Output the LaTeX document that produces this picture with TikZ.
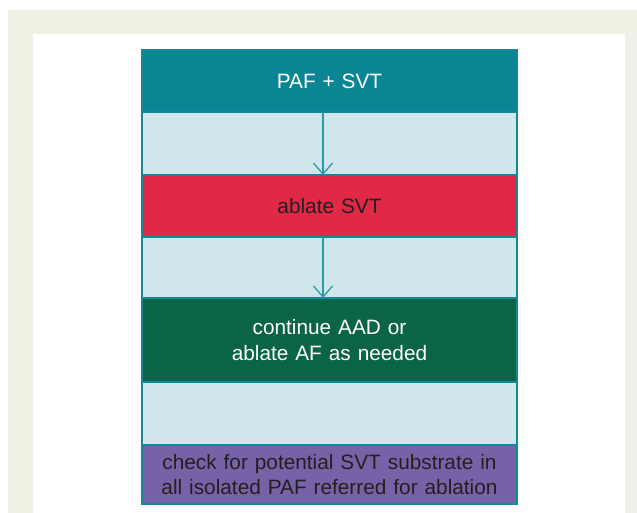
\documentclass[tikz,border=0pt]{standalone}
\usepackage{fontspec}
\setmainfont{Liberation Sans}
\usetikzlibrary{positioning}
\usetikzlibrary{arrows.meta}
\definecolor{framebeige}{HTML}{EFEFE3}
\definecolor{headteal}{HTML}{0A8593}
\definecolor{edgeteal}{HTML}{11899A}
\definecolor{arrowteal}{HTML}{2B9AAA}
\definecolor{paleblue}{HTML}{CFE7EB}
\definecolor{ablred}{HTML}{E02946}
\definecolor{aadgreen}{HTML}{0B6447}
\definecolor{checkpurple}{HTML}{7662A6}
\definecolor{darktext}{HTML}{231F20}
\begin{document}
\begin{tikzpicture}[x=1pt,y=-1pt,
    row/.style={draw=edgeteal, line width=1.2pt, outer sep=0pt, inner sep=0pt,
      minimum width=375pt, text width=360pt, align=center,
      font=\fontsize{20.8}{25.5}\selectfont},
    gap/.style={row, fill=paleblue, minimum height=63pt},
    flow/.style={draw=arrowteal, line width=1.3pt, -{Straight Barb[length=11pt,width=19pt]}}]
            \useasboundingbox (0,0) rectangle (637,513);
            \fill[framebeige] (8,10) rectangle (637,513);
            \fill[white] (33,34) rectangle (625,513);
            \node[row, fill=headteal, text=white, minimum height=62pt, anchor=north] (paf) at (329.5,50) {PAF + SVT};
            \node[gap, below=0pt of paf] (gapA) {};
            \node[row, fill=ablred, text=darktext, minimum height=62pt, below=0pt of gapA] (svt) {ablate SVT};
            \node[gap, minimum height=61pt, below=0pt of svt] (gapB) {};
            \node[row, fill=aadgreen, text=white, minimum height=84pt, below=0pt of gapB] (aad) {continue AAD or\\ablate AF as needed};
            \node[gap, below=0pt of aad] (gapC) {};
            \node[row, fill=checkpurple, text=darktext, minimum height=59pt, below=0pt of gapC] (check) {check for potential SVT substrate in\\all isolated PAF referred for ablation};
    	    \draw[flow] ([xshift=-6.5pt]paf.south) -- ([xshift=-6.5pt]svt.north);
    	    \draw[flow] ([xshift=-6.5pt]svt.south) -- ([xshift=-6.5pt]aad.north);
	    \end{tikzpicture}
\end{document}
